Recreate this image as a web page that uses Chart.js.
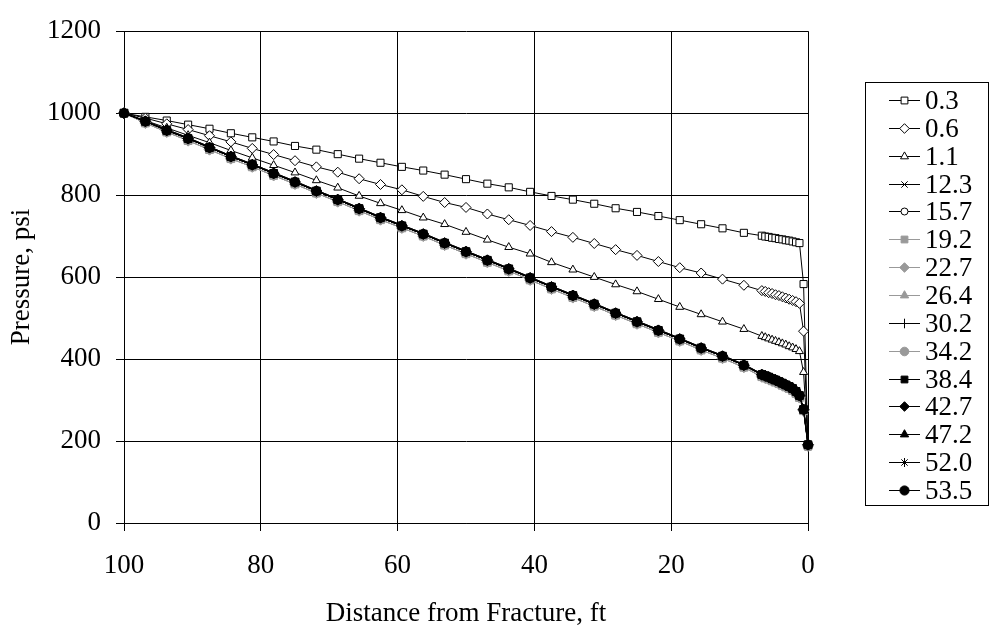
<!DOCTYPE html>
<html>
<head>
<meta charset="utf-8">
<script src="https://cdn.jsdelivr.net/npm/chart.js"></script>
<style>
  html, body { margin: 0; padding: 0; background: #fff; }
  #wrap { width: 994px; height: 630px; position: relative; }
</style>
</head>
<body>
<div id="wrap"><canvas id="c" width="994" height="630"></canvas></div>
<script>
// ---------------- DATA ----------------
const distances = [100, 96.875, 93.75, 90.625, 87.5, 84.375, 81.25, 78.125, 75, 71.875,
  68.75, 65.625, 62.5, 59.375, 56.25, 53.125, 50, 46.875, 43.75, 40.625,
  37.5, 34.375, 31.25, 28.125, 25, 21.875, 18.75, 15.625, 12.5, 9.375,
  6.75, 6.25, 5.75, 5.25, 4.75, 4.25, 3.75, 3.25, 2.75, 2.25, 1.75, 1.25, 0.65, 0];

const seriesLabels = ['0.3', '0.6', '1.1', '12.3', '15.7', '19.2', '22.7', '26.4',
  '30.2', '34.2', '38.4', '42.7', '47.2', '52.0', '53.5'];

const p0_3 = [1000, 991, 982, 972, 962, 951, 941, 931, 920, 911,
  900, 889, 879, 869, 860, 850, 839, 828, 819, 808,
  798, 789, 779, 768, 759, 749, 739, 729, 719, 708,
  701, 699, 698, 696, 695, 693, 692, 690, 689, 687, 685, 683, 583, 187];

const p0_6 = [1000, 988, 974, 960, 945, 930, 914, 899, 884, 869,
  856, 840, 826, 813, 797, 782, 770, 754, 740, 726,
  711, 697, 682, 667, 653, 638, 623, 610, 595, 580,
  567, 565, 562, 560, 557, 555, 552, 549, 546, 543, 540, 536, 468, 190];

const p1_1 = [1000, 982, 964, 946, 928, 909, 891, 873, 855, 836,
  818, 798, 780, 763, 745, 729, 710, 691, 673, 657,
  636, 618, 600, 582, 565, 546, 527, 509, 491, 473,
  456, 453, 450, 447, 444, 441, 438, 435, 431, 428, 424, 419, 368, 190];

const pLateOpen = [1000, 981, 960, 940, 918, 896, 876, 855, 834, 812,
  791, 769, 747, 727, 707, 685, 664, 643, 622, 600,
  578, 557, 536, 514, 493, 472, 451, 429, 409, 387,
  364, 361, 358, 354, 351, 347, 343, 339, 335, 330, 323, 313, 279, 192];

const pLateGray = [1000, 976, 954, 933, 911, 889, 869, 848, 827, 805,
  784, 762, 740, 720, 700, 678, 657, 636, 615, 593,
  571, 550, 529, 507, 486, 465, 444, 422, 402, 380,
  357, 354, 351, 347, 344, 340, 336, 332, 328, 323, 316, 306, 274, 188];

const pLateBlack = [1000, 980, 958, 938, 916, 894, 874, 853, 832, 810,
  789, 767, 745, 725, 705, 683, 662, 641, 620, 598,
  576, 555, 534, 512, 491, 470, 449, 427, 407, 385,
  362, 359, 356, 352, 349, 345, 341, 337, 333, 328, 321, 311, 277, 191];

const yTicks = [0, 200, 400, 600, 800, 1000, 1200];
const xTicks = [0, 20, 40, 60, 80, 100];

// ---------------- STYLES ----------------
const GRAY = '#999999';
const seriesValues = [p0_3, p0_6, p1_1, pLateOpen, pLateOpen, pLateGray, pLateGray, pLateGray,
  pLateBlack, pLateGray, pLateBlack, pLateBlack, pLateBlack, pLateBlack, pLateBlack];
const styles = [
  { shape: 'rect', r: 5, fill: '#fff', stroke: '#000', line: '#000' },
  { shape: 'rectRot', r: 5, fill: '#fff', stroke: '#000', line: '#000' },
  { shape: 'triangle', r: 4.6, fill: '#fff', stroke: '#000', line: '#000' },
  { shape: 'crossRot', r: 4.5, fill: '#000', stroke: '#000', line: '#000' },
  { shape: 'circle', r: 3.5, fill: '#fff', stroke: '#000', line: '#000' },
  { shape: 'rect', r: 5.5, fill: GRAY, stroke: GRAY, line: GRAY },
  { shape: 'rectRot', r: 5.5, fill: GRAY, stroke: GRAY, line: GRAY },
  { shape: 'triangle', r: 5, fill: GRAY, stroke: GRAY, line: GRAY },
  { shape: 'cross', r: 5, fill: '#000', stroke: '#000', line: '#000' },
  { shape: 'circle', r: 4.3, fill: GRAY, stroke: GRAY, line: GRAY },
  { shape: 'rect', r: 5.5, fill: '#000', stroke: '#000', line: '#000' },
  { shape: 'rectRot', r: 5.5, fill: '#000', stroke: '#000', line: '#000' },
  { shape: 'triangle', r: 5, fill: '#000', stroke: '#000', line: '#000' },
  { shape: 'star', r: 4.5, fill: '#000', stroke: '#000', line: '#000' },
  { shape: 'circle', r: 4.6, fill: '#000', stroke: '#000', line: '#000' }
];

const FONT = { family: '"Liberation Serif", "Times New Roman", serif', size: 27 };
const N = seriesLabels.length;

const datasets = seriesLabels.map((lab, i) => ({
  label: lab,
  data: distances.map((d, k) => ({ x: d, y: seriesValues[i][k] })),
  borderColor: styles[i].line,
  borderWidth: 1,
  pointStyle: styles[i].shape,
  pointRadius: styles[i].r,
  pointBackgroundColor: styles[i].fill,
  pointBorderColor: styles[i].stroke,
  pointBorderWidth: 1,
  tension: 0,
  fill: false,
  clip: false,
  order: N - 1 - i
}));

// ---------------- LEGEND (boxed, drawn from datasets) ----------------
const boxLegend = {
  id: 'boxLegend',
  afterDraw(chart) {
    const ctx = chart.ctx;
    ctx.save();
    ctx.strokeStyle = '#000';
    ctx.lineWidth = 1;
    ctx.strokeRect(865.5, 82.5, 123, 423);
    const top = 100, step = 27.86;
    chart.data.datasets.forEach((ds, i) => {
      const y = Math.round(top + i * step) + 0.5;
      ctx.beginPath();
      ctx.strokeStyle = ds.borderColor;
      ctx.lineWidth = 1;
      ctx.moveTo(889, y);
      ctx.lineTo(920, y);
      ctx.stroke();
      ctx.fillStyle = ds.pointBackgroundColor;
      ctx.strokeStyle = ds.pointBorderColor;
      ctx.lineWidth = 1;
      if (Chart.helpers && Chart.helpers.drawPoint) {
        Chart.helpers.drawPoint(ctx, { pointStyle: ds.pointStyle, radius: Math.min(ds.pointRadius, 4.8), rotation: 0, borderWidth: 1 }, 904.5, y);
      }
      ctx.fillStyle = '#000';
      ctx.font = FONT.size + 'px ' + FONT.family;
      ctx.textBaseline = 'middle';
      ctx.textAlign = 'left';
      ctx.fillText(ds.label, 925, y + 1);
    });
    ctx.restore();
  }
};

new Chart(document.getElementById('c'), {
  type: 'line',
  data: { datasets },
  options: {
    responsive: false,
    devicePixelRatio: 1,
    animation: false,
    events: [],
    layout: { padding: { left: 0, right: 186, top: 22, bottom: 0 } },
    plugins: {
      legend: { display: false },
      tooltip: { enabled: false }
    },
    scales: {
      x: {
        type: 'linear',
        reverse: true,
        min: Math.min(...xTicks),
        max: Math.max(...xTicks),
        afterBuildTicks: (s) => { s.ticks = xTicks.map(v => ({ value: v })); },
        afterFit: (s) => { s.height = 107; },
        ticks: { font: FONT, color: '#000', padding: 19, maxRotation: 0, callback: (v) => String(v) },
        grid: { color: '#000', lineWidth: 1, tickLength: 8, drawTicks: true },
        border: { color: '#000', width: 1 },
        title: { display: true, text: 'Distance from Fracture, ft', font: FONT, color: '#000', padding: { top: 0, bottom: 0 } }
      },
      y: {
        type: 'linear',
        min: Math.min(...yTicks),
        max: Math.max(...yTicks),
        afterBuildTicks: (s) => { s.ticks = yTicks.map(v => ({ value: v })); },
        afterFit: (s) => { s.width = 124; },
        ticks: { font: FONT, color: '#000', padding: 15, callback: (v) => String(v) },
        grid: { color: '#000', lineWidth: 1, tickLength: 8, drawTicks: true },
        border: { color: '#000', width: 1 },
        title: { display: true, text: 'Pressure, psi', font: FONT, color: '#000', padding: { top: 6, bottom: 0 } }
      }
    }
  },
  plugins: [boxLegend]
});
</script>
</body>
</html>
